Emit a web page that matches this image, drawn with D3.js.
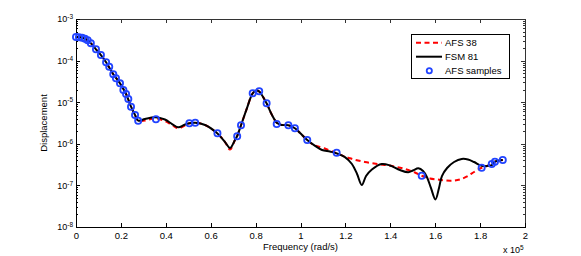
<!DOCTYPE html>
<html>
<head>
<meta charset="utf-8">
<script src="https://cdn.jsdelivr.net/npm/d3@7"></script>
<style>
  body { margin: 0; background: #fff; }
  svg { font-family: "Liberation Sans", Arial, sans-serif; }
  .axis path, .axis line { stroke: #000; shape-rendering: crispEdges; }
  .axis.box path, .axis.box line { stroke: #333; }
</style>
</head>
<body>
<div id="chart"></div>
<script>
// AFS samples (blue circles)
var sampleFreq = [0, 1300, 2700, 4000, 5200, 6600, 8900, 11100, 13400, 14800,
  16600, 17800, 19600, 21100, 22300, 23300, 24500, 26300, 27700, 35600,
  50500, 53100, 63000, 71800, 73500, 78700, 81600, 84900, 89400, 94600,
  97500, 103000, 116100, 154000, 180700, 185200, 186600, 190100];
var sampleDisp = [3.69e-4, 3.66e-4, 3.55e-4, 3.35e-4, 3.09e-4, 2.63e-4, 1.87e-4, 1.36e-4, 9.1e-5, 7.13e-5,
  4.69e-5, 3.76e-5, 2.84e-5, 1.96e-5, 1.57e-5, 1.19e-5, 7.8e-6, 4.92e-6, 3.59e-6, 3.88e-6,
  3.11e-6, 3.21e-6, 1.8e-6, 1.52e-6, 2.79e-6, 1.64e-5, 1.83e-5, 9.4e-6, 2.99e-6, 2.79e-6,
  2.36e-6, 1.23e-6, 6.1e-7, 1.71e-7, 2.66e-7, 3.27e-7, 3.72e-7, 4.08e-7];

// FSM 81 (black solid)
var fsmFreq = [0, 1800, 4000, 6600, 8900, 11100, 13400, 16600, 19600, 22300,
  24500, 26300, 27700, 30700, 35200, 39600, 42800, 45600, 48100, 50500,
  53100, 57500, 62900, 66400, 68600, 70800, 71800, 73500, 76200, 78700,
  80500, 81600, 84900, 87300, 89700, 91800, 94600, 97500, 99800, 103000,
  106500, 109600, 113100, 116100, 119800, 122900, 125200, 127300, 129200, 131800,
  136200, 139900, 144300, 148000, 150100, 152500, 154600, 156300, 158100, 160100,
  161700, 163000, 165300, 168400, 171800, 174600, 177300, 180700, 183700, 185200,
  186600, 190100];
var fsmDisp = [3.69e-4, 3.63e-4, 3.35e-4, 2.63e-4, 1.87e-4, 1.36e-4, 9.1e-5, 4.69e-5, 2.84e-5, 1.57e-5,
  7.8e-6, 4.92e-6, 3.59e-6, 3.94e-6, 4.34e-6, 3.84e-6, 2.99e-6, 2.49e-6, 2.83e-6, 3.11e-6,
  3.21e-6, 2.83e-6, 1.79e-6, 1.1e-6, 7.9e-7, 1.23e-6, 1.54e-6, 2.79e-6, 7.3e-6, 1.64e-5,
  1.91e-5, 1.81e-5, 9.4e-6, 4.92e-6, 3.11e-6, 2.83e-6, 2.79e-6, 2.36e-6, 1.82e-6, 1.23e-6,
  8.9e-7, 7.1e-7, 6.5e-7, 5.9e-7, 4.8e-7, 3.27e-7, 1.88e-7, 1.02e-7, 1.68e-7, 2.41e-7,
  3.27e-7, 3.01e-7, 2.34e-7, 2.07e-7, 2.28e-7, 2.58e-7, 2.22e-7, 1.59e-7, 8.7e-8, 4.6e-8,
  8.7e-8, 1.68e-7, 2.62e-7, 3.65e-7, 4.32e-7, 4.2e-7, 3.65e-7, 2.95e-7, 2.95e-7, 3.09e-7,
  3.72e-7, 4.08e-7];

// AFS 38 (red dashed)
var afsFreq = [0, 1800, 4000, 6600, 8900, 11100, 13400, 16600, 19600, 22300,
  24500, 26300, 27700, 30700, 35200, 39600, 42800, 45600, 48100, 50500,
  53100, 57500, 62900, 66400, 68600, 70800, 71800, 73500, 76200, 78700,
  80500, 81600, 84900, 87300, 89700, 91800, 94600, 97500, 99800, 103000,
  106000, 110500, 116100, 122000, 128700, 135400, 140800, 146500, 151000, 154000,
  157700, 160800, 164400, 167900, 171000, 174200, 177300, 180700, 183100, 185200,
  186600, 190100];
var afsDisp = [3.69e-4, 3.63e-4, 3.35e-4, 2.63e-4, 1.87e-4, 1.36e-4, 9.1e-5, 4.69e-5, 2.84e-5, 1.57e-5,
  7.8e-6, 4.92e-6, 3.59e-6, 3.63e-6, 4.07e-6, 3.53e-6, 2.83e-6, 2.36e-6, 2.68e-6, 3.11e-6,
  3.21e-6, 2.83e-6, 1.79e-6, 1.1e-6, 7.3e-7, 1.23e-6, 1.54e-6, 2.79e-6, 7.3e-6, 1.64e-5,
  1.91e-5, 1.81e-5, 9.4e-6, 4.92e-6, 3.11e-6, 2.83e-6, 2.79e-6, 2.36e-6, 1.82e-6, 1.23e-6,
  9.35e-7, 7.8e-7, 5.9e-7, 4.48e-7, 3.65e-7, 3.21e-7, 2.92e-7, 2.48e-7, 2.04e-7, 1.71e-7,
  1.47e-7, 1.39e-7, 1.31e-7, 1.3e-7, 1.39e-7, 1.64e-7, 2.1e-7, 2.66e-7, 2.92e-7, 3.27e-7,
  3.72e-7, 4.08e-7];

var xTicks = [0, 20000, 40000, 60000, 80000, 100000, 120000, 140000, 160000, 180000, 200000];
var yTicks = [1e-8, 1e-7, 1e-6, 1e-5, 1e-4, 1e-3];
var legendLabels = ['AFS 38', 'FSM 81', 'AFS samples'];

var margin = { top: 19, right: 56, bottom: 29, left: 76 },
  width = 581 - margin.left - margin.right,
  height = 256 - margin.top - margin.bottom;

var svg = d3
  .select('#chart')
  .append('svg')
  .attr('width', 581)
  .attr('height', 256)
  .append('g')
  .attr('transform', 'translate(' + margin.left + ',' + margin.top + ')');

var x = d3.scaleLinear().domain([0, 200000]).range([0, width]);
var y = d3.scaleLog().domain([1e-8, 1e-3]).range([height, 0]);

// minor ticks on the log axis
var yMinor = [];
yTicks.slice(0, -1).forEach(function(t) {
  for (var k = 2; k <= 9; k++) yMinor.push(t * k);
});

function zip(fs, ds) {
  return fs.map(function(f, i) { return [f, ds[i]]; });
}

// box: top + right
svg.append('g')
  .attr('class', 'axis box')
  .call(d3.axisTop(x).tickValues(xTicks).tickSize(-4).tickSizeOuter(0).tickFormat(''));
svg.append('g')
  .attr('class', 'axis box')
  .attr('transform', 'translate(' + width + ',0)')
  .call(d3.axisRight(y).tickValues(yTicks).tickSize(-4).tickSizeOuter(0).tickFormat(''));
svg.append('g')
  .attr('class', 'axis box')
  .attr('transform', 'translate(' + width + ',0)')
  .call(d3.axisRight(y).tickValues(yMinor).tickSize(-2).tickSizeOuter(0).tickFormat(''))
  .select('.domain').remove();

// bottom axis
var xAxis = svg.append('g')
  .attr('class', 'axis')
  .attr('transform', 'translate(0,' + height + ')')
  .call(d3.axisBottom(x).tickValues(xTicks).tickSize(-4).tickSizeOuter(0).tickPadding(5)
    .tickFormat(function(d) { return +(d / 1e5).toFixed(1); }));
xAxis.selectAll('text').attr('fill', '#000').style('font-size', '9.5px');

// left axis
var yAxis = svg.append('g')
  .attr('class', 'axis')
  .call(d3.axisLeft(y).tickValues(yTicks).tickSize(-4).tickSizeOuter(0).tickPadding(3).tickFormat(''));
yAxis.selectAll('.tick text')
  .attr('fill', '#000')
  .style('font-size', '9px')
  .each(function(d) {
    var t = d3.select(this);
    t.text('10');
    t.append('tspan')
      .attr('dy', '-0.5em')
      .style('font-size', '6.5px')
      .text(Math.round(Math.log10(d)));
  });
svg.append('g')
  .attr('class', 'axis')
  .call(d3.axisLeft(y).tickValues(yMinor).tickSize(-2).tickSizeOuter(0).tickFormat(''))
  .select('.domain').remove();

// x multiplier
var mult = svg.append('text')
  .attr('x', width - 22)
  .attr('y', height + 26)
  .style('font-size', '9px')
  .text('x 10');
mult.append('tspan').attr('dy', '-0.5em').style('font-size', '6.5px').text('5');

// axis labels
svg.append('text')
  .attr('x', width / 2)
  .attr('y', height + 23)
  .attr('text-anchor', 'middle')
  .style('font-size', '9.5px')
  .text('Frequency (rad/s)');
svg.append('text')
  .attr('transform', 'rotate(-90)')
  .attr('x', -height / 2)
  .attr('y', -29)
  .attr('text-anchor', 'middle')
  .style('font-size', '9.5px')
  .text('Displacement');

var line = d3.line()
  .x(function(d) { return x(d[0]); })
  .y(function(d) { return y(d[1]); })
  .curve(d3.curveCatmullRom.alpha(0.5));

svg.append('path')
  .datum(zip(afsFreq, afsDisp))
  .attr('fill', 'none')
  .attr('stroke', '#ff0000')
  .attr('stroke-width', 2)
  .attr('stroke-dasharray', '5,3.5')
  .attr('d', line);

svg.append('path')
  .datum(zip(fsmFreq, fsmDisp))
  .attr('fill', 'none')
  .attr('stroke', '#000')
  .attr('stroke-width', 2)
  .attr('d', line);

svg.selectAll('circle.sample')
  .data(zip(sampleFreq, sampleDisp))
  .enter()
  .append('circle')
  .attr('class', 'sample')
  .attr('cx', function(d) { return x(d[0]); })
  .attr('cy', function(d) { return y(d[1]); })
  .attr('r', 3.1)
  .attr('fill', 'none')
  .attr('stroke', '#2244ff')
  .attr('stroke-width', 1.8);

// legend
var lg = svg.append('g').attr('transform', 'translate(' + (411 - margin.left) + ',' + (34 - margin.top) + ')');
lg.append('rect')
  .attr('x', 0.5).attr('y', 0.5)
  .attr('width', 98).attr('height', 44)
  .attr('fill', '#fff')
  .attr('stroke', '#000')
  .attr('stroke-width', 1);
lg.append('line')
  .attr('x1', 5).attr('x2', 31).attr('y1', 8.7).attr('y2', 8.7)
  .attr('stroke', '#ff0000').attr('stroke-width', 2).attr('stroke-dasharray', '5,3.5');
lg.append('line')
  .attr('x1', 5).attr('x2', 31).attr('y1', 22.7).attr('y2', 22.7)
  .attr('stroke', '#000').attr('stroke-width', 2);
lg.append('circle')
  .attr('cx', 18.3).attr('cy', 36.7).attr('r', 2.6)
  .attr('fill', 'none').attr('stroke', '#2244ff').attr('stroke-width', 1.8);
lg.selectAll('text.lab')
  .data(legendLabels)
  .enter()
  .append('text')
  .attr('class', 'lab')
  .attr('x', 34)
  .attr('y', function(d, i) { return 8.7 + i * 14; })
  .attr('dy', '0.35em')
  .style('font-size', '9.5px')
  .text(function(d) { return d; });
</script>
</body>
</html>
